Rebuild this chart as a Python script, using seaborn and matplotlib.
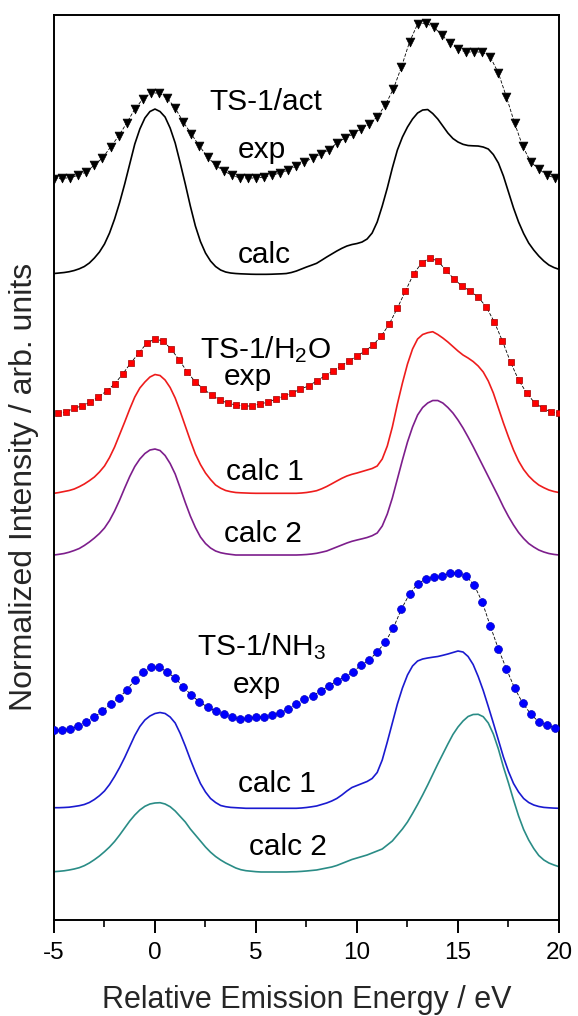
import numpy as np
import matplotlib
matplotlib.use("Agg")
import matplotlib.pyplot as plt
from matplotlib.ticker import MultipleLocator
import seaborn as sns

# energy grids (eV)
exp_energy = np.round(np.arange(-5.0, 19.81, 0.4), 2)      # TS-1/act and TS-1/NH3 exp
h2o_exp_energy = np.round(np.arange(-4.8, 20.01, 0.4), 2)  # TS-1/H2O exp
calc_energy = np.round(np.arange(-5.0, 20.001, 0.25), 2)   # all calculated curves

# stacked intensities (arb. units, offsets included)
act_exp = [741, 742, 742, 745, 748, 755, 762, 773, 784, 797, 811, 821, 827, 827, 822, 812,
           798, 786, 774, 763, 755, 749, 745, 742, 742, 742, 743, 745, 747, 750, 754, 758,
           762, 766, 770, 777, 782, 786, 791, 796, 803, 815, 831, 853, 878, 896, 897, 893,
           885, 877, 871, 868, 868, 868, 863, 847, 823, 797, 774, 758, 751, 745, 742]
act_calc = [646.5, 647, 647.5, 648.3, 649.5, 651.2, 653.5, 657, 662, 668,
            676, 687, 701, 717.5, 736, 756, 776, 791, 802, 808.5,
            811, 808.5, 803, 792, 777, 757, 736, 714, 694, 678.5,
            667, 659, 653.5, 650, 648, 647, 646.5, 646.2, 646, 645.8,
            645.7, 645.7, 645.7, 645.8, 646, 646.2, 646.5, 647.5, 649, 651,
            653, 654.8, 656.7, 659.8, 663, 666, 669, 671.7, 674, 675.5,
            676.5, 678, 681, 687, 698, 714, 732, 752, 770, 783,
            793, 801, 807, 810, 810.5, 806.5, 801, 794, 787, 781.5,
            778, 775.7, 774.5, 774.2, 774, 773, 771, 765.5, 757, 744,
            728, 712, 698, 686.5, 677, 670, 664, 659, 655, 652.5,
            650.7]

h2o_exp = [507, 508, 512, 514, 518, 523, 529, 536, 546, 557, 567, 577, 581, 579, 571, 560,
           548, 538, 531, 525, 520, 517, 515, 514, 514, 516, 518, 521, 524, 527, 531, 534,
           539, 544, 549, 554, 559, 564, 569, 575, 584, 596, 612, 629, 646, 657, 662, 659,
           650, 641, 634, 629, 623, 613, 598, 579, 558, 540, 527, 517, 512, 508, 507]
h2o_calc1 = [426.7, 427.5, 428.5, 429.5, 431, 433.3, 436, 439.3, 443, 448,
             454, 462.5, 473, 485.5, 498, 511, 523, 532, 538, 543,
             545.5, 544.5, 540, 532.5, 522, 508.5, 494, 479.5, 466, 455.5,
             447, 440.5, 435, 431.8, 429.5, 428.3, 427.5, 427.2, 427, 426.8,
             426.7, 426.7, 426.7, 426.7, 426.7, 426.7, 426.7, 426.7, 426.7, 427,
             427.5, 428.3, 429.3, 431.2, 433.5, 436.2, 439, 441.7, 444, 445.7,
             447, 448.5, 450, 451.5, 454, 461, 474, 493, 516, 537,
             556, 571, 581, 585.5, 587.3, 588.3, 585.5, 582, 578, 573.5,
             569, 565, 562, 558.5, 554, 548, 539, 527, 512, 497,
             483, 470, 459, 450.5, 444, 439, 435, 432.3, 430, 428.5,
             427.5]
h2o_calc2 = [365, 365.7, 366.5, 367.8, 369.5, 371.5, 374.5, 378, 382, 386.5,
             392, 399.5, 409, 420, 432, 443.5, 453.5, 461, 466.5, 470,
             471, 469.5, 464.5, 456.5, 446, 432, 417.5, 404, 392.5, 383,
             376.5, 372, 369, 367.3, 366.3, 365.6, 365, 365, 365, 365,
             365, 365, 365, 365, 365, 365, 365, 365, 365, 365.2,
             365.5, 366, 366.7, 367.8, 369, 371, 373, 375, 377, 378.7,
             380, 381.2, 382.5, 384.3, 387, 394, 406, 422, 441, 460,
             478, 493, 505, 512.5, 517, 519.5, 519.5, 517, 512.5, 507,
             500, 492, 483, 473.5, 463.5, 453.5, 443.5, 433.5, 423.5, 413,
             403.5, 395, 387.5, 381.5, 376.5, 373, 370, 368, 366.5, 365.6,
             365]

nh3_exp = [190, 190, 191, 194, 198, 203, 209, 216, 222, 230, 240, 248, 253, 253, 248, 242,
           233, 225, 218, 213, 209, 206, 203, 201, 202, 203, 203, 205, 207, 211, 216, 221,
           224, 229, 234, 239, 243, 248, 255, 260, 268, 278, 292, 311, 326, 336, 341, 343,
           344, 347, 347, 344, 335, 318, 294, 271, 251, 232, 217, 206, 198, 195, 192]
nh3_calc1 = [112.3, 112.3, 112.5, 112.8, 113.5, 114.3, 115.5, 117.5, 120.5, 124.3,
             129, 135.5, 143.5, 152.5, 162.5, 173.5, 184.5, 193.5, 200, 204,
             206.5, 207.5, 206.5, 203, 197, 186.5, 174, 160.5, 148, 136.5,
             128, 121.5, 117.5, 114.5, 113.3, 112.6, 112.3, 112, 111.7, 111.7,
             111.7, 111.7, 111.7, 111.7, 111.7, 111.7, 111.7, 111.7, 111.7, 112,
             112.5, 113.2, 114, 115.5, 117, 119, 121.5, 125, 129, 132.5,
             134.5, 136.5, 138.5, 141.5, 147.5, 160, 178, 197, 216, 232,
             245, 254, 259, 261, 262, 262.8, 263.5, 264.7, 266, 267.5,
             269, 268, 263.5, 255.5, 243.5, 229.5, 213.5, 197, 180, 163,
             148.5, 136.5, 128, 121.5, 117.5, 115, 113.5, 112.6, 112.2, 111.9,
             111.7]
nh3_calc2 = [48.3, 48.7, 49.2, 50, 51, 52.3, 54.3, 57, 60.3, 64,
             68.3, 73, 78.5, 85, 92, 99, 105, 110, 113.7, 116,
             117, 117.3, 116, 113.3, 109, 103.5, 98, 91, 85, 79,
             73, 67.8, 63.5, 60, 57, 54.5, 52, 50.3, 49.3, 48.8,
             48.3, 48, 48, 48, 48, 48, 48, 48.2, 48.3, 48.6,
             49, 49.5, 50, 51, 52, 53, 54.5, 56.5, 58.5, 60.5,
             62, 63.5, 65, 67, 69, 71, 75, 79, 85, 91,
             98, 106.5, 115.5, 125, 135, 145.5, 156, 166, 176, 185.5,
             193, 199, 203.5, 205.5, 205.7, 203.3, 197, 186, 171, 153,
             137, 120, 104, 90.5, 80, 71.5, 64.5, 60, 57, 55,
             53.3]

# text labels: (text, energy, intensity)
labels = [("TS-1/act", 5.5, 810), ("exp", 5.3, 762), ("calc", 5.4, 657),
          ("TS-1/H$_2$O", 5.45, 562), ("exp", 4.6, 535), ("calc 1", 5.45, 440),
          ("calc 2", 5.35, 378),
          ("TS-1/NH$_3$", 5.3, 265), ("exp", 5.05, 227), ("calc 1", 6.05, 128),
          ("calc 2", 6.6, 65)]

sns.set_style("ticks")
plt.rcParams['font.family'] = ['Liberation Sans', 'DejaVu Sans']
plt.rcParams['mathtext.fontset'] = 'custom'
plt.rcParams['mathtext.rm'] = 'Liberation Sans'
plt.rcParams['mathtext.default'] = 'regular'
plt.rcParams['axes.unicode_minus'] = False

fig = plt.figure(figsize=(5.78, 10.16), dpi=100)
ax = fig.add_axes([0.0934, 0.0945, 0.8737, 0.8907])

# experimental spectra: thin dashed guide + markers
exp_sets = [
    (exp_energy, act_exp, 'v', 'black', 'black', 40),
    (h2o_exp_energy, h2o_exp, 's', '#ff0000', '#a00000', 22),
    (exp_energy, nh3_exp, 'o', '#0000ff', '#0000c0', 32),
]
for x, y, mk, fc, ec, size in exp_sets:
    sns.lineplot(x=x, y=y, ax=ax, color='black', lw=0.6, linestyle=(0, (4, 2)),
                 estimator=None, sort=False)
    sns.scatterplot(x=x, y=y, ax=ax, marker=mk, color=fc, edgecolor=ec,
                    linewidth=0.5, s=size, zorder=3)

# calculated spectra
calc_sets = [
    (act_calc, 'black'),
    (h2o_calc1, '#ee1c1c'),
    (h2o_calc2, '#7d1e8c'),
    (nh3_calc1, '#1a1ad0'),
    (nh3_calc2, '#2a8c86'),
]
for y, c in calc_sets:
    sns.lineplot(x=calc_energy, y=y, ax=ax, color=c, lw=1.2, estimator=None, sort=False)

for txt, xe, ye in labels:
    ax.text(xe, ye, txt, ha='center', va='baseline', fontsize=21.5, color='black')

ax.set_xlim(-5, 20)
ax.set_ylim(0, 905)
ax.set_yticks([])
ax.xaxis.set_major_locator(MultipleLocator(5))
ax.xaxis.set_minor_locator(MultipleLocator(2.5))
ax.tick_params(axis='x', which='major', direction='out', length=9, width=1.4,
               labelsize=17.5, pad=7, colors='black')
ax.tick_params(axis='x', which='minor', direction='out', length=5, width=1.4)
for sp in ax.spines.values():
    sp.set_linewidth(1.4)
    sp.set_color('black')

ax.set_xlabel("Relative Emission Energy / eV", fontsize=22)
ax.set_ylabel("Normalized Intensity / arb. units", fontsize=23)
ax.xaxis.set_label_coords(0.5, -0.072)
ax.yaxis.set_label_coords(-0.03, 0.478)

fig.savefig("out.png", dpi=100)
